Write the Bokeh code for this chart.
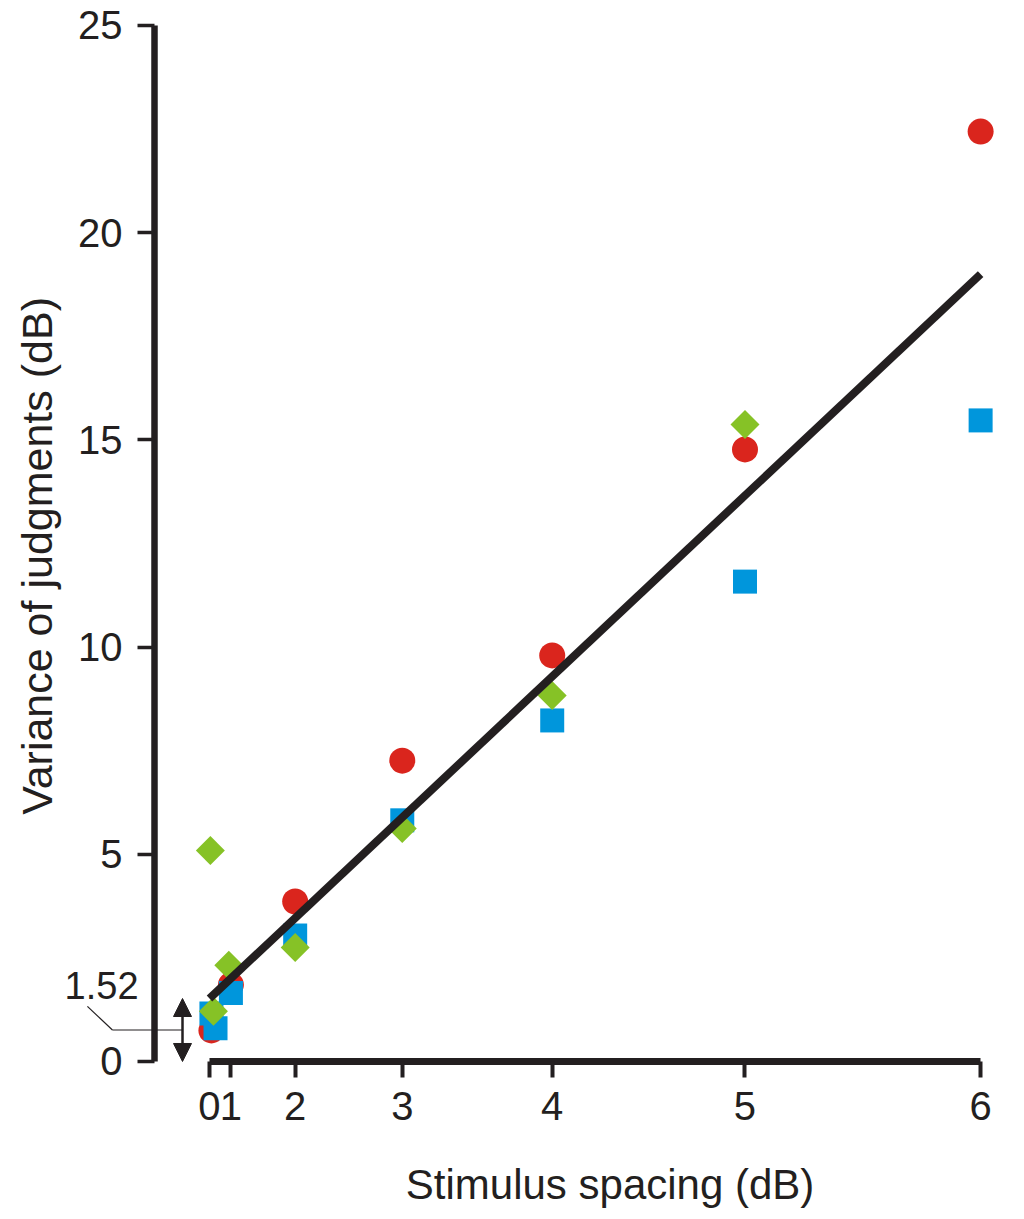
import numpy as np
from bokeh.plotting import figure
from bokeh.models import FixedTicker, Range1d, Label, Arrow, NormalHead, ColumnDataSource
from bokeh.embed import file_html
from bokeh.resources import INLINE

# ---- data (x = stimulus spacing in dB, y = variance of judgments in dB) ----
red_spacing = [0.3, 1, 2, 3, 4, 5, 6]
red_variance = [0.75, 1.85, 3.86, 7.26, 9.80, 14.77, 22.44]

blue_spacing = [0.3, 0.53, 1, 2, 3, 4, 5, 6]
blue_variance = [1.16, 0.80, 1.65, 3.04, 5.82, 8.23, 11.58, 15.47]

green_spacing = [0.2, 0.43, 0.95, 2, 3, 4, 5]
green_variance = [5.09, 1.21, 2.32, 2.75, 5.62, 8.83, 15.37]

fit_spacing = [0, 6]
fit_variance = [1.52, 19.0]

x_tick_values = [0, 1, 2, 3, 4, 5, 6]
y_tick_values = [0, 5, 10, 15, 20, 25]
intercept_label = "1.52"

RED = "#DA251D"
BLUE = "#0096DC"
GREEN = "#86C226"
INK = "#231F20"
FONT = "Liberation Sans"


def sq(vals):
    # the horizontal axis is laid out on the square of the spacing
    return [v * v for v in vals]


p = figure(width=1010, height=1212, output_backend="svg", toolbar_location=None,
           x_range=Range1d(-9.757, 37.395), y_range=Range1d(-3.644, 25.603),
           min_border=0)
p.outline_line_color = None
p.xgrid.visible = False
p.ygrid.visible = False
p.background_fill_color = "white"
p.border_fill_color = "white"

src_r = ColumnDataSource(dict(x=sq(red_spacing), y=red_variance))
src_b = ColumnDataSource(dict(x=sq(blue_spacing), y=blue_variance))
src_g = ColumnDataSource(dict(x=sq(green_spacing), y=green_variance))
src_f = ColumnDataSource(dict(x=sq(fit_spacing), y=fit_variance))

p.scatter("x", "y", source=src_r, marker="circle", size=26,
          fill_color=RED, line_color=None)
p.scatter("x", "y", source=src_b, marker="square", size=24,
          fill_color=BLUE, line_color=None)
p.scatter("x", "y", source=src_g, marker="square", size=20.5, angle=np.pi / 4,
          fill_color=GREEN, line_color=None)
p.line("x", "y", source=src_f, line_width=8, line_color=INK)

# ---- axes (drawn at fixed positions inside the frame) ----
xt = [int(v * v) for v in x_tick_values]
p.xaxis.fixed_location = 0
p.xaxis.ticker = FixedTicker(ticks=xt, minor_ticks=[])
p.xaxis.major_label_overrides = {int(v * v): str(v) for v in x_tick_values}
p.xaxis.bounds = (0, 36)
p.xaxis.axis_line_width = 7
p.xaxis.axis_line_color = INK
p.xaxis.major_tick_line_width = 4
p.xaxis.major_tick_line_color = INK
p.xaxis.major_tick_out = 16
p.xaxis.major_tick_in = 0
p.xaxis.minor_tick_line_color = None
p.xaxis.major_label_standoff = 15
p.xaxis.major_label_text_font = FONT
p.xaxis.major_label_text_font_size = "40px"
p.xaxis.major_label_text_color = INK

p.yaxis.fixed_location = -2.568
p.yaxis.ticker = FixedTicker(ticks=y_tick_values, minor_ticks=[])
p.yaxis.bounds = (0, 25)
p.yaxis.axis_line_width = 6.5
p.yaxis.axis_line_color = INK
p.yaxis.major_tick_line_width = 3.5
p.yaxis.major_tick_line_color = INK
p.yaxis.major_tick_out = 17
p.yaxis.major_tick_in = 0
p.yaxis.minor_tick_line_color = None
p.yaxis.major_label_standoff = 15
p.yaxis.major_label_text_font = FONT
p.yaxis.major_label_text_font_size = "40px"
p.yaxis.major_label_text_color = INK

# ---- axis titles ----
p.add_layout(Label(x=18.70, y=-2.97, text="Stimulus spacing (dB)",
                   text_font=FONT, text_font_size="42px", text_color=INK,
                   text_align="center", text_baseline="alphabetic"))
p.add_layout(Label(x=-8.03, y=12.20, text="Variance of judgments (dB)",
                   angle=np.pi / 2, text_font=FONT, text_font_size="43px",
                   text_color=INK, text_align="center", text_baseline="alphabetic"))

# ---- intercept annotation ----
arrow_x = -1.26
p.add_layout(Arrow(x_start=arrow_x, y_start=0, x_end=arrow_x, y_end=fit_variance[0],
                   start=NormalHead(size=18, fill_color=INK, line_color=INK),
                   end=NormalHead(size=18, fill_color=INK, line_color=INK),
                   line_width=2.5, line_color=INK))
p.add_layout(Arrow(x_start=-5.70, y_start=1.33, x_end=-4.53, y_end=fit_variance[0] / 2,
                   end=None, line_width=1.2, line_color=INK))
p.add_layout(Arrow(x_start=-4.53, y_start=fit_variance[0] / 2, x_end=arrow_x,
                   y_end=fit_variance[0] / 2, end=None, line_width=1.2, line_color=INK))
p.add_layout(Label(x=-5.04, y=1.84, text=intercept_label, text_font=FONT,
                   text_font_size="38px", text_color=INK, text_align="center",
                   text_baseline="alphabetic"))

open("out.html", "w").write(file_html(p, INLINE))
